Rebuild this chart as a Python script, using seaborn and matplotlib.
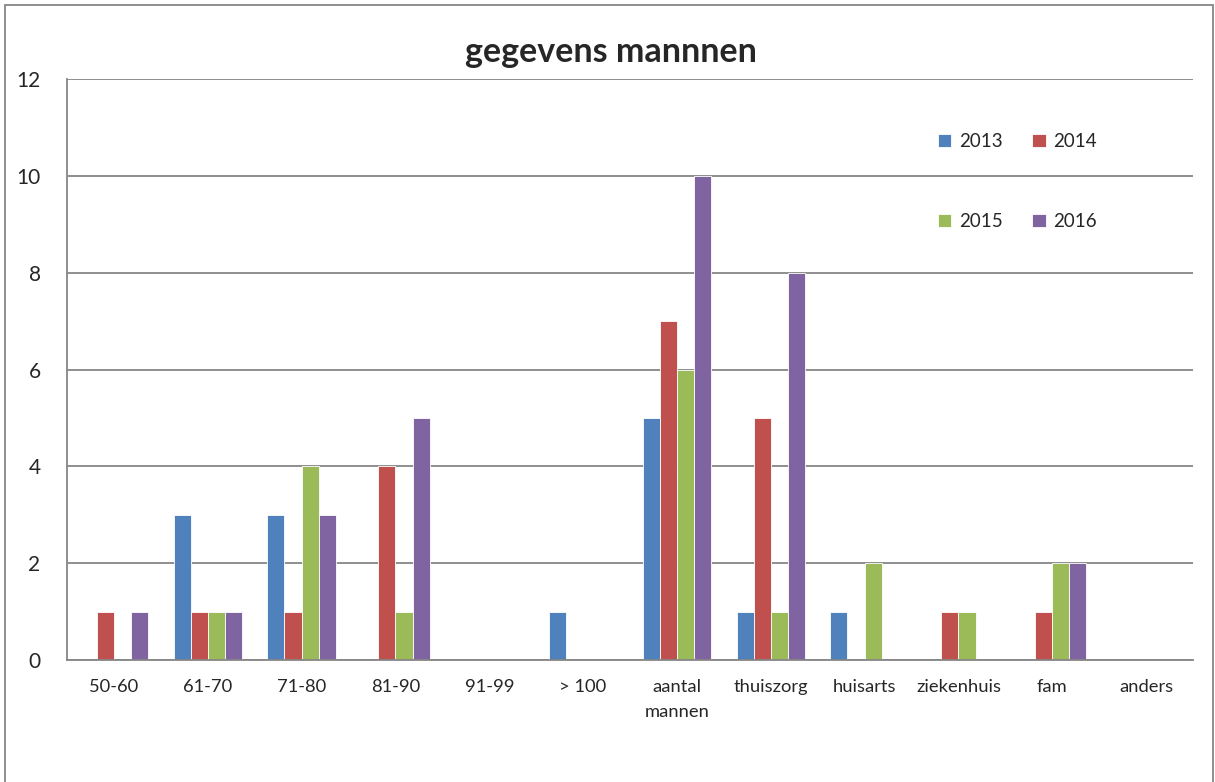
import numpy as np
import matplotlib.pyplot as plt
import pandas as pd
import seaborn as sns
from matplotlib.patches import Rectangle

# data
categories = ["50-60", "61-70", "71-80", "81-90", "91-99", "> 100",
              "aantal\nmannen", "thuiszorg", "huisarts", "ziekenhuis", "fam", "anders"]
years = ["2013", "2014", "2015", "2016"]
v2013 = [0, 3, 3, 0, 0, 1, 5, 1, 1, 0, 0, 0]
v2014 = [1, 1, 1, 4, 0, 0, 7, 5, 0, 1, 1, 0]
v2015 = [0, 1, 4, 1, 0, 0, 6, 1, 2, 1, 2, 0]
v2016 = [1, 1, 3, 5, 0, 0, 10, 8, 0, 0, 2, 0]
colors = ["#4F81BD", "#C0504D", "#9BBB59", "#8064A2"]

df = pd.DataFrame({"categorie": categories, "2013": v2013, "2014": v2014,
                   "2015": v2015, "2016": v2016})
df = df.melt(id_vars="categorie", var_name="jaar", value_name="aantal")

sns.set_style("white")
plt.rcParams['font.family'] = ['Lato', 'DejaVu Sans']

fig = plt.figure(figsize=(12.15, 7.82), dpi=100)
ax = fig.add_axes([67/1215, 1-660/782, (1193-67)/1215, (660-79)/782])

sns.barplot(data=df, x="categorie", y="aantal", hue="jaar", order=categories,
            hue_order=years, palette=colors, saturation=1, width=0.73, ax=ax,
            linewidth=0.6, edgecolor="white", legend=True)

ax.set_ylim(0, 12)
ax.set_yticks(range(0, 13, 2))
ax.yaxis.grid(True, color="#868686", linewidth=1.3)
ax.set_axisbelow(True)
ax.set_xlabel("")
ax.set_ylabel("")
for s in ["top", "right"]:
    ax.spines[s].set_visible(False)
for s in ["left", "bottom"]:
    ax.spines[s].set_color("#868686")
    ax.spines[s].set_linewidth(1.3)
ax.tick_params(axis="y", length=0, pad=19, labelsize=15)
ax.tick_params(axis="x", length=0, pad=14, labelsize=13.2)
for t in ax.get_xticklabels():
    t.set_linespacing(1.65)

ax.get_legend().remove()
h, l = ax.get_legend_handles_labels()
# row-major order: 2013 2014 / 2015 2016
idx = [0, 2, 1, 3]
fig.legend([h[i] for i in idx], [l[i] for i in idx], loc="upper left",
           bbox_to_anchor=(938/1215, 1-133/782),
           ncol=2, frameon=False, fontsize=13.5, borderpad=0, borderaxespad=0,
           handlelength=0.7, handleheight=0.7, handletextpad=0.4,
           columnspacing=1.6, labelspacing=3.35)

fig.text(0.503, 1-52/782, "gegevens mannnen", ha="center", va="center",
         fontsize=24.5, fontweight="bold")

fig.patches.append(Rectangle((5/1215, -0.01), 1208/1215, 1-5/782+0.01,
                             transform=fig.transFigure, fill=False,
                             edgecolor="#868686", linewidth=1.3))

fig.savefig("out.png", dpi=100)
